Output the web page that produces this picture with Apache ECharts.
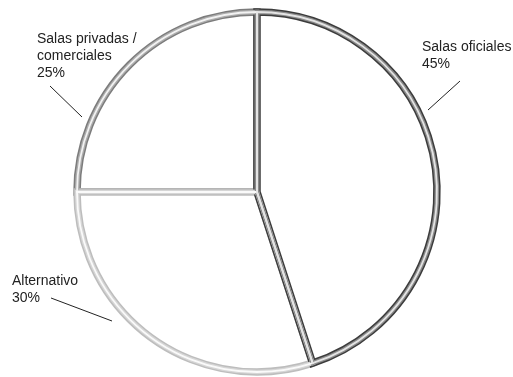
<!DOCTYPE html>
<html>
<head>
<meta charset="utf-8">
<script src="https://cdn.jsdelivr.net/npm/echarts@6/dist/echarts.min.js"></script>
<style>
html,body{margin:0;padding:0;background:#fff;}
#chart{width:513px;height:377px;}
</style>
</head>
<body>
<div id="chart"></div>
<script>
// Data (drawn counter-clockwise from the top so that "Salas oficiales" ends up on the right)
const categories = ['Salas privadas /\ncomerciales', 'Alternativo', 'Salas oficiales'];
const values = [25, 30, 45];

// Styling per slice: [outer band, mid band, highlight]
const tubeColors = [
  ['#7c7c7c', '#adadad', '#f2f2f2'],
  ['#bdbdbd', '#d6d6d6', '#fafafa'],
  ['#3c3c3c', '#8a8a8a', '#e4e4e4']
];
// label placement (top-left of text) and leader line ends
const labelPlace = [
  {x: 37, y: 31, line: [[50, 86], [82, 117]]},
  {x: 12, y: 273, line: [[51, 298], [112, 321]]},
  {x: 422, y: 39, line: [[460, 81], [428, 110]]}
];

const center = [257, 192];
const radius = 180;

function layer(bandIndex, width, withLabels) {
  return {
    type: 'pie',
    center: center,
    radius: radius,
    startAngle: 90,
    clockwise: false,
    silent: true,
    animation: false,
    z: 2 + bandIndex,
    data: categories.map((c, i) => ({
      name: c,
      value: values[i],
      itemStyle: {
        color: bandIndex === 0 ? '#ffffff' : 'transparent',
        borderColor: tubeColors[i][bandIndex],
        borderWidth: width,
        borderJoin: 'miter'
      }
    })),
    label: withLabels ? {
      show: true,
      position: 'outside',
      overflow: 'none',
      formatter: p => p.name + '\n' + p.value + '%',
      color: '#222',
      fontSize: 14,
      lineHeight: 17,
      fontFamily: 'Liberation Sans, Arial, sans-serif'
    } : {show: false},
    labelLine: withLabels ? {
      show: true,
      length: 10,
      length2: 10,
      lineStyle: {color: '#222', width: 1}
    } : {show: false},
    labelLayout: withLabels ? function (params) {
      const pl = labelPlace[params.dataIndex];
      return {
        x: pl.x,
        y: pl.y,
        align: 'left',
        verticalAlign: 'top',
        labelLinePoints: pl.line
      };
    } : undefined,
    emphasis: {disabled: true}
  };
}

const chart = echarts.init(document.getElementById('chart'), null, {renderer: 'canvas'});
chart.setOption({
  backgroundColor: '#ffffff',
  animation: false,
  series: [
    layer(0, 7.5, false),
    layer(1, 4.5, false),
    layer(2, 1.8, true)
  ]
});
</script>
</body>
</html>
